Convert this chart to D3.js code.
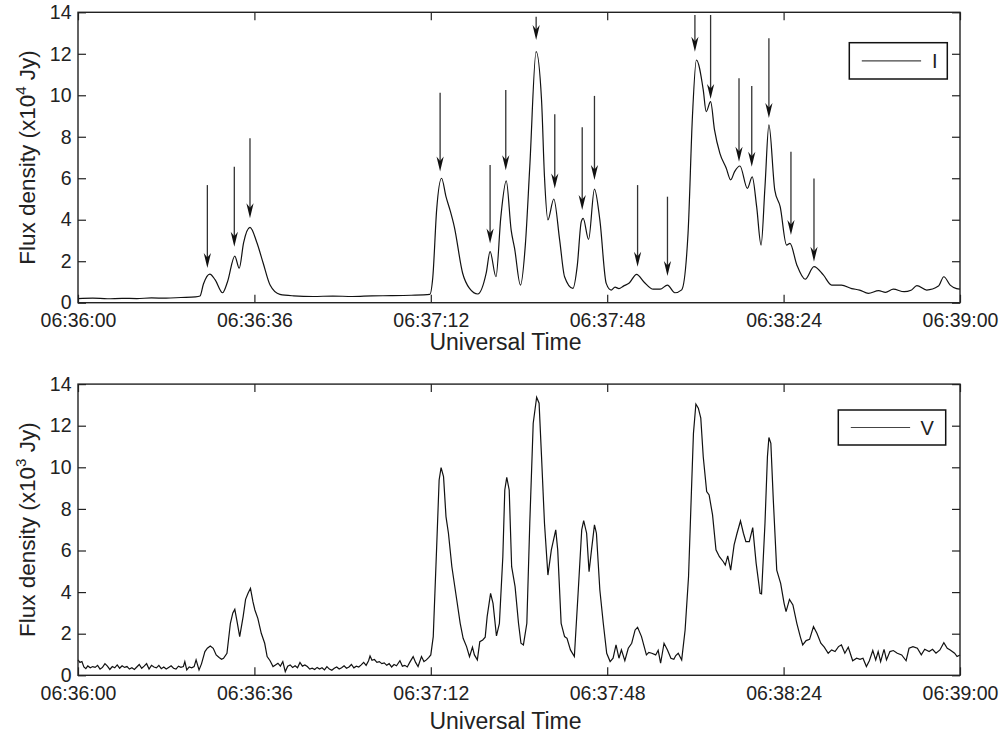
<!DOCTYPE html>
<html>
<head>
<meta charset="utf-8">
<script src="https://cdn.jsdelivr.net/npm/d3@7"></script>
<style>
  body { margin: 0; background: #fff; }
  svg text { font-family: "Liberation Sans", Arial, Helvetica, sans-serif; fill: #222; }
</style>
</head>
<body>
<div id="chart"></div>
<script>
// time in seconds after 06:36:00 UT
var tickSecs = [0, 36, 72, 108, 144, 180]
var tickLabels = ["06:36:00", "06:36:36", "06:37:12", "06:37:48", "06:38:24", "06:39:00"]
var yTicks = [0, 2, 4, 6, 8, 10, 12, 14]

// Stokes I, x10^4 Jy
var fluxI = [
  [0,0.20],[3,0.22],[6,0.19],[9,0.21],[12,0.20],[15,0.23],[18,0.22],[21,0.25],[24,0.28],
  [24.9,0.32],[25.6,0.9],[26.9,1.38],[28.0,1.1],[29.5,0.48],[30.5,1.0],[32.0,2.25],[32.9,1.66],
  [33.8,2.9],[35.1,3.63],[36.5,2.9],[37.8,1.9],[39.2,0.85],[41.2,0.4],[44,0.33],[48,0.30],
  [52,0.32],[56,0.30],[60,0.33],[64,0.34],[68,0.36],[71.8,0.40],[72.4,1.2],[73.2,4.5],
  [74.2,6.0],[75.1,5.11],[76.0,4.4],[76.8,3.66],[78.5,1.42],[79.9,0.69],[81.6,0.42],[83.3,1.42],
  [84.1,2.46],[85.3,1.25],[86.3,4.15],[87.4,5.87],[88.4,3.5],[89.1,2.62],[90.3,0.85],[91.3,2.8],
  [92.2,6.56],[93.5,12.1],[94.6,9.77],[95.2,6.07],[95.9,3.99],[97.1,5.0],[98.3,3.02],[99.3,1.25],
  [101.0,0.69],[101.9,1.8],[102.7,3.9],[103.1,4.07],[104.2,3.05],[105.4,5.48],[106.5,3.99],
  [107.8,0.93],[108.8,0.61],[109.6,0.75],[110.4,0.68],[111.3,0.8],[112.5,0.95],[114.0,1.37],
  [115.5,1.0],[117.4,0.65],[118.8,0.65],[120.3,0.85],[121.8,0.48],[123.2,0.62],[124.5,3.35],
  [125.4,9.0],[126.2,11.7],[127.6,10.26],[128.2,9.21],[129.1,9.69],[129.9,8.33],[131.0,7.2],
  [132.3,6.48],[133.2,5.92],[134.0,6.32],[135.1,6.59],[136.6,5.51],[137.6,6.07],[138.5,4.63],
  [139.4,2.78],[140.2,5.59],[141.0,8.57],[142.2,5.43],[143.3,4.63],[144.6,2.78],[145.3,2.86],
  [146.7,1.82],[148.4,1.13],[150.2,1.74],[152.1,1.34],[153.8,0.85],[155.8,0.85],[157.9,0.68],
  [159.5,0.61],[161.3,0.45],[163.4,0.58],[164.8,0.5],[166.4,0.65],[168.6,0.53],[170.0,0.6],
  [171.2,0.82],[173.2,0.61],[175.6,0.8],[176.7,1.25],[178.0,0.85],[179.3,0.68],[180,0.65]
]

// Stokes V, x10^3 Jy
var fluxV = [
  [0,0.74],[0.4,0.62],[0.8,0.66],[1.2,0.40],[1.6,0.32],[2.0,0.45],[2.5,0.36],[3.0,0.42],[3.5,0.38],
  [4.0,0.48],[4.5,0.30],[5.0,0.38],[5.5,0.56],[6.0,0.44],[6.5,0.28],[7.0,0.42],[7.5,0.36],[8.0,0.50],
  [8.5,0.34],[9.0,0.46],[9.5,0.38],[10.0,0.42],[10.5,0.30],[11.0,0.36],[11.5,0.28],[12.0,0.40],
  [12.5,0.52],[13.0,0.34],[13.5,0.44],[14.0,0.56],[14.5,0.30],[15.0,0.48],[15.5,0.40],[16.0,0.36],
  [16.5,0.48],[17.0,0.32],[17.5,0.40],[18.0,0.30],[18.5,0.38],[19.0,0.46],[19.5,0.34],[20.0,0.30],
  [20.5,0.44],[21.0,0.38],[21.5,0.42],[21.8,0.66],[22.2,0.26],[22.7,0.40],[23.2,0.36],[23.7,0.42],
  [24.1,0.74],[24.7,0.26],[25.2,0.55],[25.9,1.14],[26.4,1.30],[27.0,1.41],[27.6,1.30],[28.2,0.98],
  [28.8,0.86],[29.3,0.77],[29.7,0.82],[30.4,1.06],[31.1,2.50],[31.6,3.0],[32.0,3.17],[32.4,2.66],
  [33.0,1.86],[33.7,2.82],[34.2,3.65],[34.7,3.94],[35.2,4.18],[35.7,3.54],[36.1,3.14],[36.7,2.74],
  [37.4,2.02],[38.1,1.54],[38.6,0.90],[39.2,0.70],[39.8,0.42],[40.3,0.50],[40.8,0.58],[41.3,0.44],
  [41.8,0.66],[42.3,0.18],[42.8,0.44],[43.3,0.50],[43.8,0.38],[44.3,0.46],[44.8,0.36],[45.3,0.62],
  [45.8,0.44],[46.3,0.50],[46.8,0.42],[47.3,0.30],[47.8,0.34],[48.3,0.28],[48.8,0.38],[49.3,0.30],
  [49.8,0.36],[50.3,0.26],[50.8,0.42],[51.3,0.30],[51.8,0.24],[52.3,0.34],[52.8,0.40],[53.3,0.30],
  [53.8,0.36],[54.3,0.46],[54.8,0.34],[55.3,0.40],[55.8,0.52],[56.3,0.36],[56.8,0.44],[57.3,0.40],
  [57.8,0.50],[58.3,0.62],[58.8,0.48],[59.3,0.70],[59.6,0.93],[60.0,0.72],[60.5,0.76],[61.0,0.62],
  [61.5,0.66],[62.0,0.56],[62.5,0.60],[63.0,0.48],[63.5,0.56],[64.0,0.40],[64.5,0.52],[65.0,0.46],
  [65.7,0.70],[66.2,0.44],[66.7,0.48],[67.2,0.40],[67.7,0.62],[68.4,0.90],[68.9,0.62],[69.4,0.42],
  [70.1,0.90],[70.6,0.66],[71.1,0.74],[71.6,0.86],[72.0,0.98],[72.5,1.86],[73.2,6.19],[73.7,9.39],
  [74.1,9.98],[74.6,9.55],[75.1,7.63],[75.6,6.83],[76.3,5.22],[77.3,3.62],[78.0,2.50],[78.6,1.78],
  [79.3,1.38],[79.9,0.90],[80.5,1.35],[80.9,0.98],[81.5,0.74],[82.0,1.62],[82.6,1.70],[83.1,1.83],
  [83.5,2.82],[84.2,3.94],[84.7,3.46],[85.4,1.89],[86.0,2.50],[86.7,5.70],[87.1,8.91],[87.5,9.52],
  [88.0,8.91],[88.5,5.22],[89.2,4.26],[89.9,2.50],[90.4,1.54],[90.9,1.46],[91.6,2.50],[92.2,7.31],
  [92.9,12.12],[93.6,13.37],[94.1,13.08],[94.6,10.51],[95.2,7.31],[95.9,4.82],[96.6,6.03],[97.5,6.99],
  [97.9,6.03],[98.6,2.50],[99.3,1.86],[99.8,1.78],[100.5,1.22],[101.3,0.90],[102.1,4.10],[102.8,6.99],
  [103.2,7.44],[103.8,6.83],[104.3,4.98],[104.8,6.03],[105.4,7.23],[105.8,6.83],[106.5,4.10],
  [107.2,2.50],[107.9,1.06],[108.6,0.66],[109.2,0.82],[109.8,1.46],[110.4,0.82],[110.9,1.22],
  [111.6,0.70],[112.3,1.30],[113.0,1.54],[113.7,2.18],[114.2,2.31],[115.0,1.86],[116.0,0.98],
  [116.5,1.10],[117.1,1.06],[117.9,0.98],[118.4,1.20],[118.9,0.58],[119.6,1.54],[120.3,1.22],
  [121.0,0.82],[121.6,0.77],[122.0,0.95],[122.5,1.06],[123.2,0.74],[123.9,2.18],[124.6,4.74],
  [125.2,8.91],[125.6,11.63],[126.1,13.04],[126.6,12.84],[127.1,12.36],[127.6,10.51],[128.3,8.83],
  [128.8,8.67],[129.5,7.71],[130.2,6.03],[130.9,5.70],[131.7,5.46],[132.1,5.30],[132.6,5.74],
  [133.2,5.06],[133.9,6.27],[134.5,6.83],[135.2,7.42],[135.8,6.83],[136.3,6.43],[137.0,6.43],
  [137.7,7.10],[138.4,5.38],[139.2,3.94],[139.5,3.91],[140.2,7.31],[140.7,10.51],[141.0,11.43],
  [141.4,11.15],[141.9,8.43],[142.6,5.06],[143.4,4.42],[144.1,3.46],[144.5,3.06],[145.2,3.65],
  [145.9,3.38],[146.7,2.50],[147.4,1.86],[147.9,1.46],[148.6,1.67],[149.3,1.73],[150.1,2.34],
  [150.8,2.02],[151.6,1.54],[152.3,1.35],[153.1,1.06],[153.8,1.22],[154.5,1.14],[155.2,1.38],
  [155.8,1.46],[156.5,1.06],[157.2,1.35],[158.1,0.70],[158.9,0.82],[159.6,0.77],[160.2,0.82],
  [160.9,0.42],[161.5,0.70],[162.2,1.19],[162.8,0.74],[163.3,1.14],[163.8,0.66],[164.5,1.25],
  [165.0,0.74],[165.7,1.14],[166.4,1.19],[167.2,1.06],[168.1,0.98],[169.0,0.70],[169.6,1.30],
  [170.4,1.38],[171.3,1.30],[172.1,0.98],[172.8,1.25],[173.7,1.14],[174.4,1.25],[175.1,1.06],
  [175.9,1.22],[176.7,1.57],[177.4,1.30],[178.0,1.22],[178.9,1.06],[179.4,0.90],[180.0,0.98]
]

// arrows over the I curve: time, tail value, tip value
var arrowTime = [26.4, 31.9, 35.1, 73.9, 84.1, 87.3, 93.5, 97.3, 102.9, 105.4, 114.2, 120.3, 125.9, 129.1, 134.9, 137.5, 141.0, 145.5, 150.2]
var arrowTail = [5.67, 6.56, 7.93, 10.12, 6.64, 10.25, 13.79, 9.09, 8.46, 9.97, 5.67, 5.11, 13.87, 13.87, 10.82, 10.45, 12.75, 7.28, 5.99]
var arrowTip  = [1.67, 2.70, 4.07, 6.32, 2.86, 6.39, 12.67, 5.51, 4.47, 5.92, 1.73, 1.29, 12.10, 9.82, 6.80, 6.55, 8.90, 3.26, 1.98]

var width = 1003, height = 734

var svg = d3.select("#chart").append("svg")
    .attr("width", width)
    .attr("height", height)

var x = d3.scaleLinear().domain([0, 180]).range([78, 960])

function drawPanel(p) {

	var y = d3.scaleLinear().domain([0, 14]).range([p.bottom, p.top])
	var g = svg.append("g")

	var fmt = (d, i) => tickLabels[i]

	g.append("g")
		.attr("transform", "translate(0," + p.bottom + ")")
		.call(d3.axisBottom(x).tickValues(tickSecs).tickFormat(fmt).tickSizeInner(-8).tickSizeOuter(0).tickPadding(10.7))
	g.append("g")
		.attr("transform", "translate(0," + p.top + ")")
		.call(d3.axisTop(x).tickValues(tickSecs).tickFormat("").tickSizeInner(-8).tickSizeOuter(0))
	g.append("g")
		.attr("transform", "translate(78,0)")
		.call(d3.axisLeft(y).tickValues(yTicks).tickSizeInner(-8).tickSizeOuter(0).tickPadding(6.5))
	g.append("g")
		.attr("transform", "translate(960,0)")
		.call(d3.axisRight(y).tickValues(yTicks).tickFormat("").tickSizeInner(-8).tickSizeOuter(0))

	g.selectAll(".domain").remove()
	g.selectAll(".tick line").attr("stroke", "#222").attr("stroke-width", 1.2)
	g.selectAll(".tick text").attr("font-size", "19.5px").attr("fill", "#222")
		.attr("font-family", '"Liberation Sans", Arial, sans-serif')

	var line = d3.line()
		.x(d => x(d[0]))
		.y(d => y(d[1]))
		.curve(p.curve)

	g.append("path")
		.datum(p.data)
		.attr("fill", "none")
		.attr("stroke", "#111")
		.attr("stroke-width", 1.2)
		.attr("d", line)

	// frame
	g.append("rect")
		.attr("x", 78)
		.attr("y", p.top)
		.attr("width", 882)
		.attr("height", p.bottom - p.top)
		.attr("fill", "none")
		.attr("stroke", "#222")
		.attr("stroke-width", 1.4)

	// labels
	g.append("text")
		.attr("x", 505.5)
		.attr("y", p.bottom + p.xlabGap)
		.attr("text-anchor", "middle")
		.attr("font-size", "23px")
		.text("Universal Time")

	var yl = g.append("text")
		.attr("transform", "translate(35," + (p.top + p.bottom) / 2 + ") rotate(-90)")
		.attr("text-anchor", "middle")
		.attr("font-size", "22.5px")
	yl.append("tspan").text("Flux density (x10")
	yl.append("tspan").attr("dy", -9).attr("font-size", "15px").text(p.exp)
	yl.append("tspan").attr("dy", 9).text(" Jy)")

	// legend
	var lg = p.legend
	g.append("rect")
		.attr("x", lg.x).attr("y", lg.y)
		.attr("width", lg.w).attr("height", lg.h)
		.attr("fill", "#fff")
		.attr("stroke", "#111")
		.attr("stroke-width", 1.5)
	g.append("line")
		.attr("x1", lg.x + 12.5).attr("x2", lg.x + 12.5 + lg.len)
		.attr("y1", lg.y + lg.h / 2).attr("y2", lg.y + lg.h / 2)
		.attr("stroke", "#444")
		.attr("stroke-width", 1.2)
	g.append("text")
		.attr("x", lg.tx)
		.attr("y", lg.y + lg.h / 2)
		.attr("dy", "0.35em")
		.attr("font-size", "20px")
		.text(p.name)

	return y
}

var yI = drawPanel({
	top: 12.3, bottom: 302.7, data: fluxI, exp: "4", name: "I", xlabGap: 47.5,
	curve: d3.curveMonotoneX,
	legend: {x: 849.3, y: 42.7, w: 98, h: 36.3, len: 59.3, tx: 932}
})

drawPanel({
	top: 384.1, bottom: 675.3, data: fluxV, exp: "3", name: "V", xlabGap: 54,
	curve: d3.curveLinear,
	legend: {x: 838.3, y: 410, w: 107.4, h: 35, len: 59.3, tx: 920.5}
})

// arrows marking the bursts
var arrows = svg.append("g")
arrowTime.forEach(function(t, i) {
	var ax = x(t)
	var y0 = yI(arrowTail[i])
	var y1 = yI(arrowTip[i])
	arrows.append("line")
		.attr("x1", ax).attr("x2", ax)
		.attr("y1", y0).attr("y2", y1 - 8)
		.attr("stroke", "#333")
		.attr("stroke-width", 1.3)
	arrows.append("path")
		.attr("d", "M" + ax + "," + y1 + "L" + (ax - 3.6) + "," + (y1 - 15) + "L" + ax + "," + (y1 - 10.5) + "L" + (ax + 3.6) + "," + (y1 - 15) + "Z")
		.attr("fill", "#111")
})
</script>
</body>
</html>
